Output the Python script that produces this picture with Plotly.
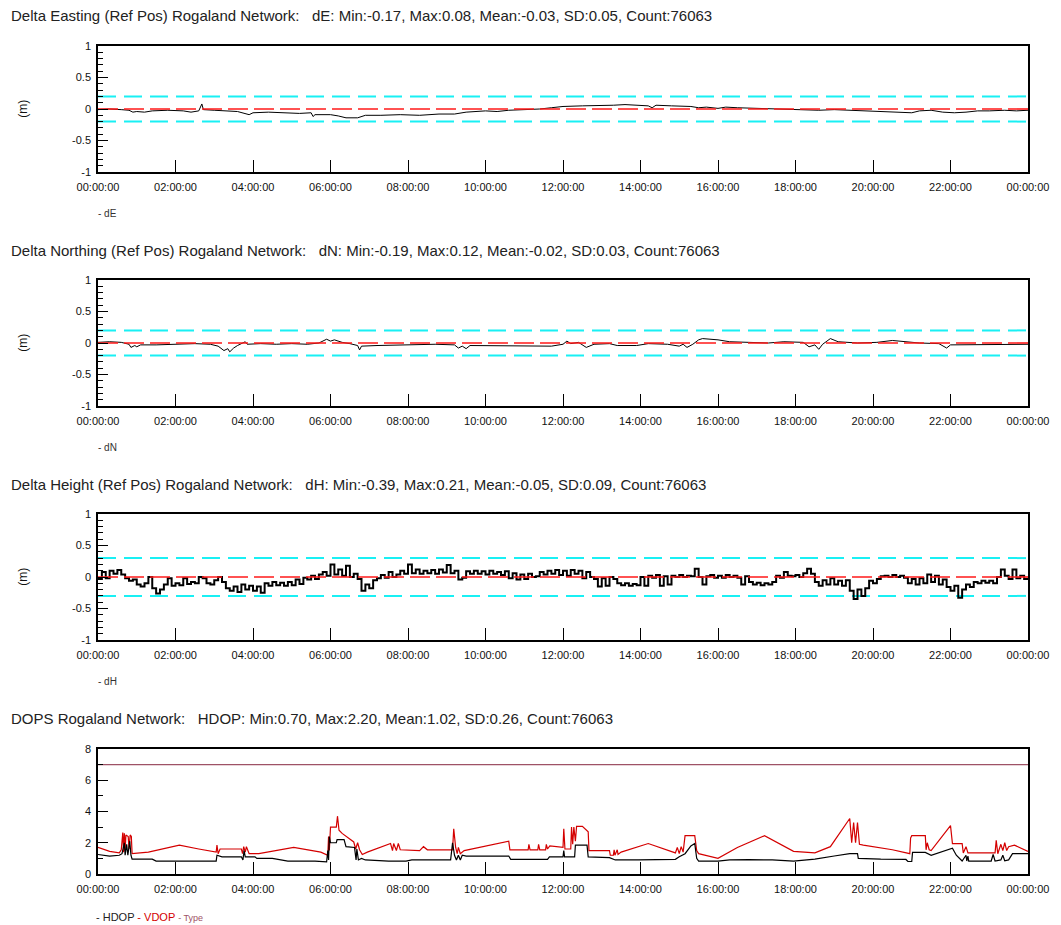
import plotly.graph_objects as go

# ---------------- data ----------------
TITLE_E = "Delta Easting (Ref Pos) Rogaland Network:\u00a0\u00a0\u00a0dE: Min:-0.17, Max:0.08, Mean:-0.03, SD:0.05, Count:76063"
TITLE_N = "Delta Northing (Ref Pos) Rogaland Network:\u00a0\u00a0\u00a0dN: Min:-0.19, Max:0.12, Mean:-0.02, SD:0.03, Count:76063"
TITLE_H = "Delta Height (Ref Pos) Rogaland Network:\u00a0\u00a0\u00a0dH: Min:-0.39, Max:0.21, Mean:-0.05, SD:0.09, Count:76063"
TITLE_D = "DOPS Rogaland Network:\u00a0\u00a0\u00a0HDOP: Min:0.70, Max:2.20, Mean:1.02, SD:0.26, Count:76063"

tick_hours = [0, 2, 4, 6, 8, 10, 12, 14, 16, 18, 20, 22, 24]
tick_labels = ["00:00:00", "02:00:00", "04:00:00", "06:00:00", "08:00:00", "10:00:00",
               "12:00:00", "14:00:00", "16:00:00", "18:00:00", "20:00:00", "22:00:00", "00:00:00"]

span_hours = [0, 24]

# dE (hours, metres)
dE_t = [0.0, 0.3, 0.6, 0.8, 0.9, 1.0, 1.2, 1.4, 1.8, 2.2, 2.4, 2.6, 2.68, 2.72, 3.0, 3.3, 3.6, 3.9, 4.0,
        4.4, 4.8, 5.2, 5.5, 5.55, 5.6, 6.0, 6.2, 6.4, 6.7, 6.9, 7.3, 7.8, 8.3, 8.8, 9.2, 9.5, 10.0, 10.3,
        10.6, 11.0, 11.4, 11.7, 12.0, 12.5, 13.0, 13.3, 13.6, 14.0, 14.2, 14.3, 14.4, 14.8, 15.3, 15.5,
        15.7, 16.0, 16.2, 16.5, 17.0, 17.5, 17.8, 18.2, 18.6, 19.0, 19.4, 19.8, 20.2, 20.6, 21.0, 21.2,
        21.5, 21.8, 22.1, 22.4, 22.7, 23.0, 23.4, 23.7, 24.0]
dE_v = [-0.01, 0.0, -0.01, -0.02, -0.05, -0.04, -0.05, -0.03, -0.02, -0.03, -0.05, -0.03, 0.08, -0.01,
        -0.02, -0.03, -0.04, -0.09, -0.06, -0.05, -0.06, -0.07, -0.06, -0.12, -0.09, -0.09, -0.11, -0.14,
        -0.14, -0.10, -0.10, -0.09, -0.10, -0.08, -0.08, -0.05, -0.03, -0.04, -0.02, -0.01, 0.0, 0.02,
        0.04, 0.05, 0.05, 0.06, 0.07, 0.06, 0.05, 0.02, 0.06, 0.05, 0.04, 0.02, 0.03, 0.01, 0.03, 0.02,
        0.01, 0.01, 0.0, -0.01, -0.02, -0.01, -0.02, -0.03, -0.05, -0.05, -0.06, -0.03, -0.02, -0.05,
        -0.06, -0.05, -0.03, -0.03, -0.02, -0.03, -0.02]

# dN
dN_t = [0.0, 0.3, 0.6, 0.8, 0.85, 0.95, 1.0, 1.1, 1.5, 2.0, 2.5, 2.9, 3.1, 3.25, 3.35, 3.4, 3.5, 3.6, 3.8,
        3.85, 4.2, 4.6, 5.0, 5.4, 5.7, 5.9, 6.0, 6.1, 6.3, 6.5, 6.7, 6.75, 6.8, 7.2, 7.7, 8.2, 8.7, 9.2,
        9.3, 9.4, 9.5, 9.6, 10.2, 10.7, 11.2, 11.7, 12.0, 12.1, 12.2, 12.4, 12.6, 12.8, 13.2, 13.4, 13.9,
        14.2, 14.7, 15.0, 15.1, 15.2, 15.35, 15.5, 15.6, 15.8, 16.0, 16.3, 16.8, 17.3, 17.7, 18.2, 18.35,
        18.5, 18.6, 18.7, 18.9, 19.1, 19.6, 20.1, 20.5, 20.8, 21.2, 21.7, 21.9, 22.0, 22.5, 23.0, 23.5, 24.0]
dN_v = [0.01, 0.02, 0.01, -0.02, -0.07, -0.04, -0.06, -0.03, -0.03, -0.02, -0.01, -0.02, -0.05, -0.12,
        -0.09, -0.14, -0.08, -0.04, 0.02, -0.02, -0.01, -0.02, -0.01, -0.02, 0.0, 0.06, 0.03, 0.05, 0.01,
        -0.01, -0.04, -0.11, -0.05, -0.04, -0.03, -0.02, -0.02, -0.03, -0.08, -0.05, -0.09, -0.04, -0.04,
        -0.05, -0.04, -0.05, -0.02, 0.03, -0.01, 0.01, -0.07, -0.02, -0.01, -0.04, -0.04, -0.01, -0.02,
        -0.05, -0.02, -0.07, -0.02, 0.05, 0.07, 0.06, 0.05, 0.02, 0.01, 0.0, 0.02, 0.01, -0.06, -0.03,
        -0.10, -0.02, 0.07, 0.02, 0.0, 0.01, 0.04, 0.02, 0.0, -0.01, -0.08, -0.03, -0.03, -0.02, -0.03, -0.02]

# dH, read every 0.1 h (one row per hour)
dH_t = [h / 10 for h in range(241)]
dH_v = [
    -0.03, 0.08, -0.02, 0.10, 0.05, 0.11, 0.04, -0.02, -0.06, -0.04,
    -0.12, -0.15, -0.10, 0.00, -0.18, -0.26, -0.20, -0.12, -0.02, -0.14,
    -0.10, -0.13, -0.02, -0.11, -0.08, -0.10, 0.00, -0.02, -0.10, -0.12,
    -0.05, 0.00, -0.08, -0.18, -0.22, -0.15, -0.24, -0.12, -0.20, -0.14,
    -0.22, -0.15, -0.25, -0.10, -0.14, -0.08, -0.13, -0.09, -0.14, -0.08,
    -0.13, -0.04, -0.11, -0.01, -0.04, 0.02, -0.03, 0.04, 0.08, 0.02,
    0.20, 0.04, 0.12, 0.02, 0.18, 0.00, 0.05, -0.03, -0.22, -0.12,
    -0.18, -0.05, -0.02, 0.03, -0.01, 0.08, 0.00, 0.04, 0.10, 0.05,
    0.20, 0.06, 0.12, 0.05, 0.10, 0.06, 0.11, 0.05, 0.12, 0.07,
    0.19, 0.06, 0.10, -0.04, -0.01, 0.09, 0.05, 0.10, 0.05, 0.09,
    0.04, 0.10, 0.05, 0.08, 0.03, 0.09, -0.02, 0.06, -0.04, 0.04,
    -0.03, 0.05, 0.00, 0.01, 0.08, 0.04, 0.10, 0.05, 0.11, 0.03,
    0.10, 0.02, 0.11, 0.05, 0.10, -0.02, 0.08, 0.00, -0.03, -0.15,
    -0.02, -0.14, 0.00, -0.03, -0.10, -0.13, -0.10, -0.14, -0.11, -0.13,
    0.00, -0.14, 0.02, -0.01, 0.03, -0.14, 0.01, -0.12, 0.02, 0.00,
    0.03, 0.00, 0.02, 0.01, 0.13, 0.00, -0.12, 0.01, 0.03, -0.01,
    0.02, -0.01, 0.03, 0.00, 0.02, -0.01, -0.12, 0.01, -0.08, -0.12,
    -0.09, -0.13, -0.10, -0.12, -0.08, 0.02, -0.01, 0.08, 0.02, 0.01,
    0.03, 0.00, 0.06, 0.13, 0.05, -0.08, -0.14, -0.05, -0.12, -0.02,
    -0.12, -0.06, -0.14, -0.05, -0.22, -0.35, -0.20, -0.30, -0.18, -0.06,
    -0.10, -0.03, 0.01, 0.02, 0.00, 0.03, 0.00, 0.02, -0.01, -0.10,
    -0.03, -0.12, -0.02, -0.10, 0.04, -0.08, 0.02, -0.12, -0.04, -0.16,
    -0.22, -0.14, -0.33, -0.20, -0.12, -0.16, -0.08, -0.10, -0.06, -0.09,
    -0.06, -0.10, 0.00, 0.12, 0.02, -0.03, 0.12, -0.02, 0.02, -0.03,
    -0.02]

# HDOP
hdop_t = [0.0, 0.3, 0.55, 0.62, 0.68, 0.7, 0.74, 0.77, 0.82, 0.85, 0.88, 1.4, 1.5, 3.05, 3.07, 3.2, 3.7,
          3.74, 3.77, 3.8, 4.05, 4.1, 4.5, 4.7, 4.9, 5.6, 5.9, 5.93, 5.95, 5.97, 6.0, 6.15, 6.17, 6.35,
          6.4, 6.62, 6.66, 6.68, 6.72, 6.8, 6.9, 7.5, 7.95, 8.1, 9.1, 9.15, 9.2, 9.25, 9.3, 9.35, 9.4,
          9.5, 10.6, 10.65, 11.6, 11.65, 12.0, 12.02, 12.04, 12.3, 12.32, 12.62, 12.65, 13.2, 13.35,
          13.95, 14.5, 14.9, 15.0, 15.15, 15.3, 15.4, 15.45, 15.5, 16.0, 16.3, 16.8, 17.4, 17.95, 18.5,
          19.0, 19.4, 19.6, 19.62, 20.2, 20.85, 20.9, 21.0, 21.02, 21.35, 21.5, 21.8, 22.05, 22.15, 22.3,
          22.4, 22.42, 22.45, 22.47, 23.05, 23.1, 23.15, 23.3, 23.35, 23.4, 23.5, 23.6, 24.0]
hdop_v = [1.25, 1.15, 1.2, 1.3, 2.0, 1.2, 1.9, 1.2, 2.1, 1.2, 0.95, 0.95, 0.83, 0.83, 1.2, 1.1, 1.1,
          0.9, 1.5, 1.1, 1.1, 1.0, 1.0, 0.92, 0.83, 0.83, 0.78, 1.5, 0.9, 2.4, 2.0, 2.0, 2.2, 2.2,
          1.75, 1.7, 0.9, 1.6, 0.9, 1.0, 0.9, 0.83, 0.83, 0.9, 0.9, 2.0, 1.2, 0.9, 1.2, 0.9, 1.2,
          1.15, 1.15, 0.94, 0.94, 1.1, 1.1, 1.5, 1.1, 1.1, 1.85, 1.85, 1.1, 1.05, 0.9,
          0.9, 0.94, 0.94, 1.1, 1.3, 1.8, 1.95, 1.0, 0.83, 0.83, 0.9, 0.92, 0.9, 0.83, 0.95,
          1.15, 1.3, 1.3, 1.0, 0.95, 0.93, 0.8, 0.8, 1.38, 1.38, 1.2, 1.45, 1.65, 1.2, 0.83,
          1.2, 0.83, 1.15, 0.83, 0.83, 1.25, 0.83, 0.9, 1.2, 0.85, 0.9, 1.3, 1.3]

# VDOP
vdop_t = [0.0, 0.3, 0.55, 0.6, 0.64, 0.66, 0.68, 0.7, 0.72, 0.78, 0.8, 0.83, 0.86, 0.88, 1.3, 2.1, 2.6,
          3.05, 3.07, 3.1, 3.15, 3.7, 3.73, 3.76, 3.8, 3.83, 3.9, 4.15, 5.05, 5.75, 5.93, 5.95, 5.97,
          6.0, 6.15, 6.18, 6.22, 6.3, 6.6, 6.65, 6.7, 6.75, 6.82, 6.95, 7.55, 7.6, 7.63, 7.7, 7.75, 7.8,
          8.3, 8.4, 8.5, 9.15, 9.18, 9.23, 9.27, 9.3, 9.35, 9.45, 10.6, 10.63, 11.1, 11.12, 11.15, 11.35,
          11.37, 11.4, 11.55, 11.57, 11.6, 11.66, 12.0, 12.02, 12.05, 12.2, 12.22, 12.25, 12.28, 12.32,
          12.35, 12.5, 12.65, 12.67, 13.2, 13.22, 13.3, 13.32, 13.34, 13.4, 13.42, 13.5, 14.2, 14.9,
          14.95, 15.0, 15.05, 15.1, 15.15, 15.4, 15.45, 15.5, 16.0, 16.5, 17.2, 17.6, 17.95, 18.5, 18.9,
          19.4, 19.45, 19.5, 19.55, 19.6, 19.65, 19.75, 20.5, 20.95, 20.97, 21.0, 21.35, 21.37, 21.4,
          21.45, 21.5, 22.0, 22.05, 22.3, 22.33, 22.4, 22.45, 23.15, 23.18, 23.22, 23.3, 23.35, 23.4,
          23.45, 23.5, 23.65, 24.0]
vdop_v = [1.7, 1.45, 1.35, 1.55, 2.65, 1.4, 2.6, 1.5, 2.5, 2.4, 1.6, 2.5, 2.4, 1.3, 1.4, 1.85, 1.6,
          1.4, 1.85, 1.3, 1.6, 1.6, 1.3, 1.75, 1.4, 1.75, 1.3, 1.3, 1.7, 1.4, 1.2, 2.4, 1.5,
          3.0, 3.0, 3.7, 2.8, 2.6, 2.05, 1.6, 2.0, 1.55, 1.25, 1.4, 1.95, 1.5, 1.95, 1.5, 1.95, 1.55,
          1.5, 1.75, 1.55, 1.55, 2.9, 1.7, 1.3, 1.7, 1.3, 1.5, 2.1, 1.55, 1.55, 1.9, 1.55, 1.55,
          1.9, 1.55, 1.55, 1.9, 1.6, 1.8, 1.7, 2.9, 1.6, 1.6, 3.0, 1.9, 3.0, 2.1,
          3.05, 3.05, 2.7, 1.5, 1.5, 1.2, 1.2, 1.55, 1.2, 1.55, 1.25, 1.4, 1.95, 1.35,
          1.7, 1.3, 1.75, 1.4, 2.45, 2.45, 1.5, 1.3, 1.0, 1.7, 2.45, 1.9, 1.45, 1.35, 1.75,
          3.55, 2.0, 3.3, 2.0, 3.3, 1.9, 1.85, 1.55, 1.3, 2.3, 2.45, 2.45, 1.55, 2.0,
          1.55, 1.5, 3.1, 1.95, 1.95, 1.35, 1.75, 1.35, 1.35, 2.15, 1.3, 1.9, 1.5, 2.0,
          1.5, 1.75, 1.85, 1.45]

type_level = [7, 7]
zero_level = [0, 0]
band_EN = 0.2
band_H = 0.3

# ---------------- figure ----------------
# the page body adds an 8 px margin; reference pixel positions are shifted by OFF
OFF = 8
FW, FH = 1053, 917
PLOT_LEFT, PLOT_RIGHT, PLOT_TOP, PLOT_BOTTOM = 98, 1038, 46, 874  # reference px
L = PLOT_LEFT - OFF
R = FW - (PLOT_RIGHT - OFF)
T = PLOT_TOP - OFF
B = FH - (PLOT_BOTTOM - OFF)
PH = FH - T - B
PW = FW - L - R


def px_to_paper_x(px):
    return (px - OFF - L) / PW


def px_to_paper_y(py):
    return (FH - B - (py - OFF)) / PH


def dom(top_px, bot_px):
    return [px_to_paper_y(bot_px), px_to_paper_y(top_px)]


panel_px = [(46, 172), (280, 406), (514, 640), (749, 874)]
domains = [dom(a, b) for a, b in panel_px]
domains[0][1] = min(domains[0][1], 1.0)

fig = go.Figure()

BLACK = "#000000"
CYAN = "#19F0F4"
RED = "#FF1A1A"

panels = [("dE", dE_t, dE_v, band_EN, 1.0, "linear"), ("dN", dN_t, dN_v, band_EN, 1.0, "linear"),
          ("dH", dH_t, dH_v, band_H, 2.0, "hv")]
for i, (name, t, v, band, lw, shape) in enumerate(panels):
    ax = "" if i == 0 else str(i + 1)
    xa, ya = "x" + ax, "y" + ax
    for lvl in (band, -band):
        fig.add_trace(go.Scatter(x=span_hours, y=[lvl, lvl], mode="lines", xaxis=xa, yaxis=ya,
                                 line=dict(color=CYAN, width=2, dash="18px,8px"), hoverinfo="skip"))
    fig.add_trace(go.Scatter(x=t, y=v, mode="lines", name=name, xaxis=xa, yaxis=ya,
                             line=dict(color=BLACK, width=lw, shape=shape)))
    fig.add_trace(go.Scatter(x=span_hours, y=zero_level, mode="lines", xaxis=xa, yaxis=ya,
                             line=dict(color=RED, width=1.6, dash="20px,6px"), hoverinfo="skip"))

fig.add_trace(go.Scatter(x=span_hours, y=type_level, mode="lines", name="Type", xaxis="x4", yaxis="y4",
                         line=dict(color="#9E5266", width=1.2)))
fig.add_trace(go.Scatter(x=vdop_t, y=vdop_v, mode="lines", name="VDOP", xaxis="x4", yaxis="y4",
                         line=dict(color="#D40000", width=1.2)))
fig.add_trace(go.Scatter(x=hdop_t, y=hdop_v, mode="lines", name="HDOP", xaxis="x4", yaxis="y4",
                         line=dict(color=BLACK, width=1.2)))

TICKFONT = dict(family="Liberation Sans, Arial, sans-serif", size=11, color="#111111")

layout = dict(width=FW, height=FH, margin=dict(l=L, r=R, t=T, b=B),
              paper_bgcolor="white", plot_bgcolor="white", showlegend=False)

for i in range(4):
    ax = "" if i == 0 else str(i + 1)
    xaxis = dict(domain=[0, 1], anchor="y" + ax, range=[0, 24], tickmode="array",
                 tickvals=tick_hours, ticktext=tick_labels, ticks="inside", ticklen=12,
                 tickwidth=1, tickcolor=BLACK, showline=True, linecolor=BLACK, linewidth=1.5,
                 mirror=True, showgrid=False, zeroline=False, tickfont=TICKFONT, fixedrange=True,
                 ticklabeloverflow="allow", ticklabelstandoff=4)
    if i < 3:
        yvals = [-1, -0.5, 0, 0.5, 1]
        ytext = ["-1", "-0.5", "0", "0.5", "1"]
        minor_vals = [-0.9, -0.8, -0.7, -0.6, -0.4, -0.3, -0.2, -0.1, 0.1, 0.2, 0.3, 0.4, 0.6, 0.7, 0.8, 0.9]
        yrange = [-1, 1]
    else:
        yvals = [0, 2, 4, 6, 8]
        ytext = ["0", "2", "4", "6", "8"]
        minor_vals = [1, 3, 5, 7]
        yrange = [0, 8]
    yaxis = dict(domain=domains[i], anchor="x" + ax, range=yrange, tickmode="array", tickvals=yvals,
                 ticktext=ytext, ticks="inside", ticklen=10, tickwidth=1, tickcolor=BLACK,
                 minor=dict(tickmode="array", tickvals=minor_vals, ticks="inside", ticklen=5,
                            tickcolor=BLACK, tickwidth=1, showgrid=False),
                 showline=True, linecolor=BLACK, linewidth=1.5, mirror=True, showgrid=False,
                 zeroline=False, tickfont=TICKFONT, fixedrange=True, ticklabelstandoff=3,
                 ticklabeloverflow="allow")
    layout["xaxis" + ax] = xaxis
    layout["yaxis" + ax] = yaxis

fig.update_layout(**layout)

TITLEFONT = dict(family="Liberation Sans, Arial, sans-serif", size=15, color="#222222")
LEGFONT = dict(family="Liberation Sans, Arial, sans-serif", size=10, color="#333333")

titles = [(TITLE_E, 15), (TITLE_N, 250), (TITLE_H, 484), (TITLE_D, 718)]
for text, ypx in titles:
    fig.add_annotation(text=text, xref="paper", yref="paper", x=px_to_paper_x(8), y=px_to_paper_y(ypx),
                       xanchor="left", yanchor="middle", showarrow=False, font=TITLEFONT)

for name, (top, bot) in zip(("dE", "dN", "dH"), panel_px[:3]):
    fig.add_annotation(text="(m)", xref="paper", yref="paper", x=px_to_paper_x(22),
                       y=px_to_paper_y((top + bot) / 2), textangle=-90, showarrow=False,
                       xanchor="center", yanchor="middle", font=dict(TICKFONT, size=12))
    fig.add_annotation(text="- " + name, xref="paper", yref="paper", x=px_to_paper_x(96),
                       y=px_to_paper_y(bot + 41), xanchor="left", yanchor="middle",
                       showarrow=False, font=LEGFONT)

fig.add_annotation(
    text="- HDOP <span style='color:#D40000'>- VDOP</span> <span style='color:#9E5266;font-size:9px'>- Type</span>",
    xref="paper", yref="paper", x=px_to_paper_x(94), y=px_to_paper_y(917), xanchor="left",
    yanchor="middle", showarrow=False, font=dict(family=LEGFONT["family"], size=11, color="#222222"))

fig.write_html("out.html")
